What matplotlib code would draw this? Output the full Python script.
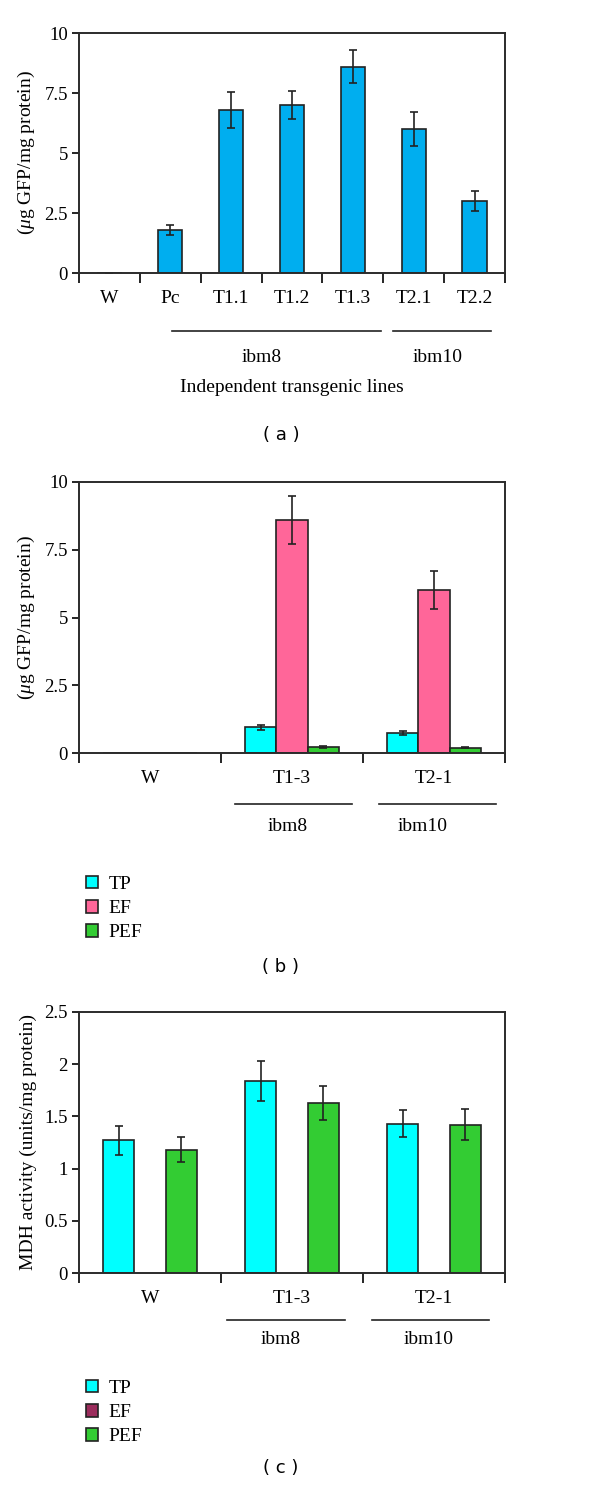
"""
Expresión de GFP y actividad MDH en líneas transgénicas (tres paneles).
"""

import matplotlib
matplotlib.use('Agg')
import matplotlib.pyplot as plt
import numpy as np
from matplotlib.patches import Patch
from matplotlib.lines import Line2D
from matplotlib.transforms import blended_transform_factory

# Panel (a): GFP por línea
lineas_a = ['W', 'Pc', 'T1.1', 'T1.2', 'T1.3', 'T2.1', 'T2.2']
gfp_a = [0, 1.8, 6.8, 7.0, 8.6, 6.0, 3.0]
err_a = [0, 0.2, 0.75, 0.6, 0.7, 0.72, 0.4]

# Panel (b): GFP por fracción
lineas_bc = ['W', 'T1-3', 'T2-1']
gfp_tp = [0, 0.95, 0.75]
gfp_ef = [0, 8.6, 6.0]
gfp_pef = [0, 0.22, 0.2]
err_tp = [0, 0.1, 0.08]
err_ef = [0, 0.87, 0.7]
err_pef = [0, 0.03, 0.03]

# Panel (c): actividad MDH
mdh_tp = [1.27, 1.84, 1.43]
mdh_ef = [0, 0, 0]
mdh_pef = [1.18, 1.63, 1.42]
err_mdh_tp = [0.14, 0.19, 0.13]
err_mdh_pef = [0.12, 0.16, 0.15]

COLOR_A = '#00AEEF'
COLOR_TP = '#00FFFF'
COLOR_EF = '#FF6699'
COLOR_EF_C = '#9B2C5C'
COLOR_PEF = '#33CC33'

SERIF = ['Liberation Serif', 'DejaVu Serif']
plt.rcParams['font.family'] = SERIF
plt.rcParams['mathtext.fontset'] = 'custom'
plt.rcParams['mathtext.it'] = 'Liberation Serif:italic'
plt.rcParams['mathtext.rm'] = 'Liberation Serif'

W, H = 600, 1502
fig = plt.figure(figsize=(W / 100, H / 100), dpi=100)


def fy(py):
    return 1 - py / H


def crear_ejes(top, bottom, left=79, right=505):
    ax = fig.add_axes([left / W, fy(bottom), (right - left) / W, (bottom - top) / H])
    for s in ax.spines.values():
        s.set_linewidth(1.4)
        s.set_color('#2b2b2b')
    ax.tick_params(axis='y', direction='out', length=5, width=1.2, labelsize=13.5, pad=3)
    ax.tick_params(axis='x', which='major', length=0, labelsize=14, pad=12)
    ax.tick_params(axis='x', which='minor', direction='out', length=7, width=1.2)
    return ax


def grupos(ax, spans, y_linea, y_texto, fontsize=14):
    trans = blended_transform_factory(ax.transData, fig.transFigure)
    for nombre, x0, x1, xt in spans:
        fig.add_artist(Line2D([x0, x1], [fy(y_linea)] * 2, transform=trans,
                              color='#222222', lw=1.2))
        fig.text(xt, fy(y_texto), nombre, transform=trans, ha='center',
                 va='center', fontsize=fontsize)


def leyenda(ax, colores, y_top):
    handles = [Patch(facecolor=c, edgecolor='#222222', lw=1.2, label=l)
               for l, c in zip(['TP', 'EF', 'PEF'], colores)]
    fig.legend(handles=handles, loc='upper left', bbox_to_anchor=(68 / W, fy(y_top)),
               frameon=False, fontsize=14, handlelength=0.65, handleheight=0.65,
               handletextpad=0.55, labelspacing=0.35)


err_kw = dict(ecolor='#222222', elinewidth=1.2, capsize=3, capthick=1.2)

# ---------------- Panel (a)
ax = crear_ejes(33, 273)
x = np.arange(len(lineas_a))
ax.bar(x, gfp_a, width=0.4, color=COLOR_A, edgecolor='#222222', lw=1.2,
       yerr=[0 if v == 0 else e for v, e in zip(gfp_a, err_a)], error_kw=err_kw)
ax.set_xlim(-0.5, len(lineas_a) - 0.5)
ax.set_ylim(0, 10)
ax.set_yticks([0, 2.5, 5, 7.5, 10])
ax.set_yticklabels(['0', '2.5', '5', '7.5', '10'])
ax.set_xticks(x)
ax.set_xticklabels(lineas_a)
ax.set_xticks(np.arange(-0.5, len(lineas_a)), minor=True)
ax.set_ylabel(r'($\mu$g GFP/mg protein)', fontsize=14, labelpad=5)
grupos(ax, [('ibm8', 1.03, 4.46, 2.5), ('ibm10', 4.66, 6.27, 5.4)], 331, 357)
fig.text(292 / W, fy(387), 'Independent transgenic lines', ha='center', va='center',
         fontsize=14)
fig.text(281 / W, fy(435), '( a )', ha='center', va='center', fontsize=13,
         family='DejaVu Sans')

# ---------------- Panel (b)
ax = crear_ejes(482, 753)
x = np.arange(len(lineas_bc))
bw = 0.22
for off, vals, errs, col in [(-bw, gfp_tp, err_tp, COLOR_TP),
                             (0, gfp_ef, err_ef, COLOR_EF),
                             (bw, gfp_pef, err_pef, COLOR_PEF)]:
    ax.bar(x + off, vals, width=bw, color=col, edgecolor='#222222', lw=1.2)
    ax.errorbar(x[1:] + off, vals[1:], yerr=errs[1:], fmt='none', **err_kw)
ax.set_xlim(-0.5, len(lineas_bc) - 0.5)
ax.set_ylim(0, 10)
ax.set_yticks([0, 2.5, 5, 7.5, 10])
ax.set_yticklabels(['0', '2.5', '5', '7.5', '10'])
ax.set_xticks(x)
ax.set_xticklabels(lineas_bc)
ax.set_xticks(np.arange(-0.5, len(lineas_bc)), minor=True)
ax.set_ylabel(r'($\mu$g GFP/mg protein)', fontsize=14, labelpad=5)
grupos(ax, [('ibm8', 0.60, 1.42, 0.97), ('ibm10', 1.61, 2.44, 1.92)], 804, 827)
leyenda(ax, [COLOR_TP, COLOR_EF, COLOR_PEF], 858)
fig.text(281 / W, fy(967), '( b )', ha='center', va='center', fontsize=13,
         family='DejaVu Sans')

# ---------------- Panel (c)
ax = crear_ejes(1012, 1273)
for off, vals, errs, col in [(-bw, mdh_tp, err_mdh_tp, COLOR_TP),
                             (bw, mdh_pef, err_mdh_pef, COLOR_PEF)]:
    ax.bar(x + off, vals, width=bw, color=col, edgecolor='#222222', lw=1.2,
           yerr=errs, error_kw=err_kw)
ax.set_xlim(-0.5, len(lineas_bc) - 0.5)
ax.set_ylim(0, 2.5)
ax.set_yticks([0, 0.5, 1, 1.5, 2, 2.5])
ax.set_yticklabels(['0', '0.5', '1', '1.5', '2', '2.5'])
ax.set_xticks(x)
ax.set_xticklabels(lineas_bc)
ax.set_xticks(np.arange(-0.5, len(lineas_bc)), minor=True)
ax.set_ylabel('MDH activity (units/mg protein)', fontsize=14, labelpad=5)
grupos(ax, [('ibm8', 0.54, 1.37, 0.92), ('ibm10', 1.56, 2.39, 1.96)], 1320, 1340)
leyenda(ax, [COLOR_TP, COLOR_EF_C, COLOR_PEF], 1362)
fig.text(281 / W, fy(1468), '( c )', ha='center', va='center', fontsize=13,
         family='DejaVu Sans')

fig.savefig('out.png', dpi=100)
